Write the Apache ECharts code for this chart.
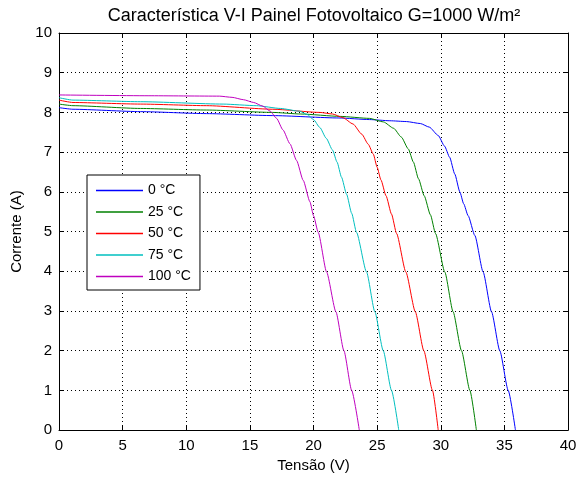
<!DOCTYPE html>
<html>
<head>
<meta charset="utf-8">
<script src="https://cdn.jsdelivr.net/npm/echarts@6/dist/echarts.min.js"></script>
<style>
html,body{margin:0;padding:0;background:#fff;}
#chart{width:587px;height:478px;}
</style>
</head>
<body>
<div id="chart"></div>
<script>
const titleText = "Característica V-I Painel Fotovoltaico G=1000 W/m²";
const xName = "Tensão (V)";
const yName = "Corrente (A)";
const seriesNames = ["0 °C", "25 °C", "50 °C", "75 °C", "100 °C"];
const seriesColors = ["#0000ff", "#008000", "#ff0000", "#00bfbf", "#bf00bf"];

const t0 = [[0,8.12],[1.1,8.08],[6.4,8.02],[11.6,7.97],[16.8,7.92],[22,7.86],[24.4,7.82],[26,7.79],[27.3,7.77],[28.4,7.72],[29.1,7.63],[29.8,7.42],[30.3,7.15],[30.7,6.87],[31.1,6.45],[31.5,6.0],[31.8,5.7],[32.15,5.4],[32.68,4.9],[33.33,3.98],[33.99,2.98],[34.64,2.0],[35.3,1.0],[35.87,0]];
const t25 = [[0,8.21],[1.1,8.17],[6.4,8.1],[11.6,8.06],[16.8,8.0],[19,7.96],[22.1,7.9],[24.4,7.85],[25.5,7.76],[26.3,7.6],[26.9,7.38],[27.45,7.08],[27.85,6.75],[28.25,6.33],[28.7,5.9],[29.19,5.42],[29.59,4.95],[30.32,3.98],[30.97,2.98],[31.63,2.0],[32.29,1.0],[32.8,0]];
const t50 = [[0,8.31],[1.1,8.25],[6.4,8.21],[11.6,8.17],[16.8,8.08],[20.5,8.0],[21.5,7.96],[22.3,7.87],[23.1,7.71],[23.8,7.45],[24.3,7.2],[24.7,6.95],[25.0,6.62],[25.3,6.3],[25.7,5.9],[26.13,5.44],[26.53,4.95],[27.26,3.98],[28.0,2.98],[28.67,2.0],[29.35,1.0],[29.8,0]];
const t75 = [[0,8.37],[1.1,8.31],[6.4,8.27],[12.9,8.21],[15.5,8.17],[17.4,8.1],[18.9,8.03],[19.5,7.95],[20.0,7.82],[20.5,7.62],[21.0,7.35],[21.5,7.05],[21.85,6.75],[22.2,6.37],[22.6,5.94],[23.0,5.46],[23.38,4.98],[24.17,3.98],[24.82,2.98],[25.48,2.0],[26.13,1.0],[26.7,0]];
const t100 = [[0,8.44],[7,8.42],[12.6,8.41],[13.6,8.38],[14.5,8.32],[15.3,8.25],[16.0,8.16],[16.6,8.03],[17.1,7.85],[17.6,7.56],[18.15,7.21],[18.67,6.79],[19.19,6.29],[19.72,5.75],[20.0,5.4],[20.37,4.98],[21.03,3.98],[21.76,2.98],[22.39,2.0],[23.0,1.0],[23.6,0]];
const seriesData = [t0, t25, t50, t75, t100];

const FONT = "'Liberation Sans', Arial, sans-serif";
const chart = echarts.init(document.getElementById('chart'), null, {renderer: 'canvas'});

const gridDash = {type: [1, 3], color: '#000', width: 1};
const tickStyle = {show: true, inside: true, length: 5, lineStyle: {color: '#000'}};

const option = {
  animation: false,
  backgroundColor: '#fff',
  title: {
    text: titleText,
    left: 309, top: 2, textAlign: 'center',
    textStyle: {fontFamily: FONT, fontSize: 18, fontWeight: 'normal', color: '#000'}
  },
  legend: {
    orient: 'vertical',
    left: 87, top: 175,
    data: seriesNames,
    icon: 'rect',
    itemWidth: 47, itemHeight: 1.5,
    itemGap: 4.5,
    padding: [7, 9, 5, 9],
    borderColor: '#000', borderWidth: 1, borderRadius: 0,
    backgroundColor: '#fff',
    textStyle: {fontFamily: FONT, fontSize: 14, color: '#000', lineHeight: 17}
  },
  grid: {left: 59, right: 19, top: 33, bottom: 44, containLabel: false},
  xAxis: [{
    type: 'value', min: 0, max: 40, interval: 5, position: 'bottom',
    name: xName, nameLocation: 'middle', nameGap: 25,
    nameTextStyle: {fontFamily: FONT, fontSize: 15, color: '#000'},
    axisLine: {show: true, onZero: false, lineStyle: {color: '#000', width: 1}},
    axisTick: tickStyle,
    axisLabel: {fontFamily: FONT, fontSize: 15, color: '#000', margin: 8},
    splitLine: {show: true, lineStyle: gridDash}
  }, {
    type: 'value', min: 0, max: 40, interval: 5, position: 'top',
    axisLine: {show: true, onZero: false, lineStyle: {color: '#000', width: 1}},
    axisTick: tickStyle, axisLabel: {show: false}, splitLine: {show: false}
  }],
  yAxis: [{
    type: 'value', min: 0, max: 10, interval: 1, position: 'left',
    name: yName, nameLocation: 'middle', nameGap: 25, nameRotate: 90,
    nameTextStyle: {fontFamily: FONT, fontSize: 15, color: '#000'},
    axisLine: {show: true, onZero: false, lineStyle: {color: '#000', width: 1}},
    axisTick: tickStyle,
    axisLabel: {fontFamily: FONT, fontSize: 15, color: '#000', margin: 7},
    splitLine: {show: true, lineStyle: gridDash}
  }, {
    type: 'value', min: 0, max: 10, interval: 1, position: 'right',
    axisLine: {show: true, onZero: false, lineStyle: {color: '#000', width: 1}},
    axisTick: tickStyle, axisLabel: {show: false}, splitLine: {show: false}
  }],
  series: seriesNames.map((n, i) => ({
    name: n, type: 'line', xAxisIndex: 0, yAxisIndex: 0,
    data: seriesData[i], showSymbol: false, symbol: 'none',
    smooth: 0.2, smoothMonotone: 'x',
    color: seriesColors[i],
    lineStyle: {color: seriesColors[i], width: 1},
    z: 2
  }))
};
chart.setOption(option);
</script>
</body>
</html>
